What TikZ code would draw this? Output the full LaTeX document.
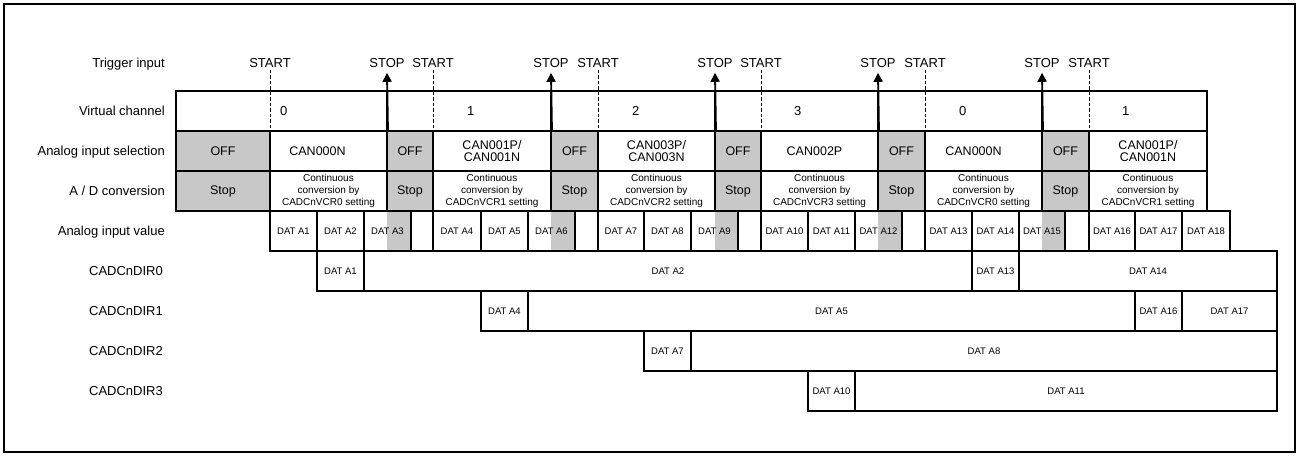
\documentclass[tikz,border=0pt]{standalone}
\usepackage{fontspec}
\setmainfont{Liberation Sans}
\usetikzlibrary{arrows.meta}
\definecolor{offgray}{RGB}{200,200,200}
\newcommand{\cellnode}[6]{%
  \node[#1, minimum width={(#4)-(#3)}] (#2) at ({((#3)+(#4))/2},#5) {#6};}
\begin{document}
\begin{tikzpicture}[x=1pt,y=-1pt,
  lbl/.style={anchor=base east, inner sep=0, font=\fontsize{13}{13}\selectfont},
  trig/.style={anchor=center, inner sep=0, font=\fontsize{13}{13}\selectfont},
  chn/.style={anchor=west, inner sep=0, font=\fontsize{13}{13}\selectfont},
  cellbox/.style={draw, line width=1.9pt, minimum height=40pt, inner sep=0, align=center, font=\fontsize{12.5}{12.5}\selectfont},
  offbox/.style={cellbox, fill=offgray},
  convbox/.style={cellbox, font=\fontsize{10}{12}\selectfont},
  datbox/.style={cellbox, font=\fontsize{9.5}{10}\selectfont},
  dashline/.style={line width=1pt, dash pattern=on 3.5pt off 2pt},
  arrline/.style={line width=1.9pt, -{Triangle[width=9pt,length=9pt]}}
]
\useasboundingbox (0,0) rectangle (1300,458);
\node[draw, line width=2pt, minimum width=1291pt, minimum height=448pt, inner sep=0] (frame) at (649.5,228) {};

% left labels
\node[lbl] (lt) at (165,67.7) {Trigger input};
\node[lbl] (lv) at (165,115.7) {Virtual channel};
\node[lbl] (ls) at (165,155.7) {Analog input selection};
\node[lbl] (ld) at (165,195.7) {A / D conversion};
\node[lbl] (la) at (165,235.7) {Analog input value};
\node[lbl] (l0) at (163,275.7) {CADCnDIR0};
\node[lbl] (l1) at (163,315.7) {CADCnDIR1};
\node[lbl] (l2) at (163,355.7) {CADCnDIR2};
\node[lbl] (l3) at (163,395.7) {CADCnDIR3};

% gray parts of analog input values
\fill[offgray] (387,211) rectangle (411,251);
\fill[offgray] (551,211) rectangle (575,251);
\fill[offgray] (715,211) rectangle (738,251);
\fill[offgray] (878,211) rectangle (902,251);
\fill[offgray] (1042,211) rectangle (1065,251);

% virtual channel row
\cellnode{cellbox}{vc0}{176}{387}{111}{}
\cellnode{cellbox}{vc1}{387}{551}{111}{}
\cellnode{cellbox}{vc2}{551}{715}{111}{}
\cellnode{cellbox}{vc3}{715}{878}{111}{}
\cellnode{cellbox}{vc4}{878}{1042}{111}{}
\cellnode{cellbox}{vc5}{1042}{1207}{111}{}
\node[chn] (c0) at (280,111) {0};
\node[chn] (c1) at (467,111) {1};
\node[chn] (c2) at (632,111) {2};
\node[chn] (c3) at (794,111) {3};
\node[chn] (c4) at (959,111) {0};
\node[chn] (c5) at (1122,111) {1};

% analog input selection row
\cellnode{offbox}{as0}{176}{270}{151}{OFF}
\cellnode{cellbox}{as1}{270}{387}{151}{CAN000N\hspace*{22pt}}
\cellnode{offbox}{as2}{387}{433}{151}{OFF}
\cellnode{cellbox}{as3}{433}{551}{151}{CAN001P/\\CAN001N}
\cellnode{offbox}{as4}{551}{598}{151}{OFF}
\cellnode{cellbox}{as5}{598}{715}{151}{CAN003P/\\CAN003N}
\cellnode{offbox}{as6}{715}{761}{151}{OFF}
\cellnode{cellbox}{as7}{761}{878}{151}{CAN002P\hspace*{10pt}}
\cellnode{offbox}{as8}{878}{925}{151}{OFF}
\cellnode{cellbox}{as9}{925}{1042}{151}{CAN000N\hspace*{20pt}}
\cellnode{offbox}{as10}{1042}{1089}{151}{OFF}
\cellnode{cellbox}{as11}{1089}{1207}{151}{CAN001P/\\CAN001N}

% A/D conversion row
\cellnode{offbox}{ad0}{176}{270}{191}{Stop}
\cellnode{convbox}{ad1}{270}{387}{191}{Continuous\\conversion by\\CADCnVCR0 setting}
\cellnode{offbox}{ad2}{387}{433}{191}{Stop}
\cellnode{convbox}{ad3}{433}{551}{191}{Continuous\\conversion by\\CADCnVCR1 setting}
\cellnode{offbox}{ad4}{551}{598}{191}{Stop}
\cellnode{convbox}{ad5}{598}{715}{191}{Continuous\\conversion by\\CADCnVCR2 setting}
\cellnode{offbox}{ad6}{715}{761}{191}{Stop}
\cellnode{convbox}{ad7}{761}{878}{191}{Continuous\\conversion by\\CADCnVCR3 setting}
\cellnode{offbox}{ad8}{878}{925}{191}{Stop}
\cellnode{convbox}{ad9}{925}{1042}{191}{Continuous\\conversion by\\CADCnVCR0 setting}
\cellnode{offbox}{ad10}{1042}{1089}{191}{Stop}
\cellnode{convbox}{ad11}{1089}{1207}{191}{Continuous\\conversion by\\CADCnVCR1 setting}

% analog input value row
\cellnode{datbox}{av1}{270}{317}{231}{DAT A1}
\cellnode{datbox}{av2}{317}{364}{231}{DAT A2}
\cellnode{datbox}{av3}{364}{411}{231}{DAT A3}
\cellnode{datbox}{ave0}{411}{433}{231}{}
\cellnode{datbox}{av4}{433}{481}{231}{DAT A4}
\cellnode{datbox}{av5}{481}{528}{231}{DAT A5}
\cellnode{datbox}{av6}{528}{575}{231}{DAT A6}
\cellnode{datbox}{ave1}{575}{598}{231}{}
\cellnode{datbox}{av7}{598}{644}{231}{DAT A7}
\cellnode{datbox}{av8}{644}{691}{231}{DAT A8}
\cellnode{datbox}{av9}{691}{738}{231}{DAT A9}
\cellnode{datbox}{ave2}{738}{761}{231}{}
\cellnode{datbox}{av10}{761}{808}{231}{DAT A10}
\cellnode{datbox}{av11}{808}{855}{231}{DAT A11}
\cellnode{datbox}{av12}{855}{902}{231}{DAT A12}
\cellnode{datbox}{ave3}{902}{925}{231}{}
\cellnode{datbox}{av13}{925}{972}{231}{DAT A13}
\cellnode{datbox}{av14}{972}{1019}{231}{DAT A14}
\cellnode{datbox}{av15}{1019}{1065}{231}{DAT A15}
\cellnode{datbox}{ave4}{1065}{1089}{231}{}
\cellnode{datbox}{av16}{1089}{1135}{231}{DAT A16}
\cellnode{datbox}{av17}{1135}{1182}{231}{DAT A17}
\cellnode{datbox}{av18}{1182}{1230}{231}{DAT A18}

% CADCnDIR rows
\cellnode{datbox}{d0a}{317}{364}{271}{DAT A1}
\cellnode{datbox}{d0b}{364}{972}{271}{DAT A2}
\cellnode{datbox}{d0c}{972}{1019}{271}{DAT A13}
\cellnode{datbox}{d0d}{1019}{1277}{271}{DAT A14}
\cellnode{datbox}{d1a}{481}{528}{311}{DAT A4}
\cellnode{datbox}{d1b}{528}{1135}{311}{DAT A5}
\cellnode{datbox}{d1c}{1135}{1182}{311}{DAT A16}
\cellnode{datbox}{d1d}{1182}{1277}{311}{DAT A17}
\cellnode{datbox}{d2a}{644}{691}{351}{DAT A7}
\cellnode{datbox}{d2b}{691}{1277}{351}{DAT A8}
\cellnode{datbox}{d3a}{808}{855}{391}{DAT A10}
\cellnode{datbox}{d3b}{855}{1277}{391}{DAT A11}

% trigger texts
\node[trig] (st0) at (270,63) {START};
\node[trig] (sp1) at (387,63) {STOP};
\node[trig] (st1) at (433,63) {START};
\node[trig] (sp2) at (551,63) {STOP};
\node[trig] (st2) at (598,63) {START};
\node[trig] (sp3) at (715,63) {STOP};
\node[trig] (st3) at (761,63) {START};
\node[trig] (sp4) at (878,63) {STOP};
\node[trig] (st4) at (925,63) {START};
\node[trig] (sp5) at (1042,63) {STOP};
\node[trig] (st5) at (1089,63) {START};

% START dashed lines
\foreach \s/\c in {st0/as1, st1/as3, st2/as5, st3/as7, st4/as9, st5/as11}{
  \draw[dashline] ([yshift=-2pt]\s.south) -- (\s.south |- \c.north);
}
% STOP arrows
\foreach \p/\c in {sp1/vc0, sp2/vc1, sp3/vc2, sp4/vc3, sp5/vc4}{
  \coordinate (\p tip) at ([yshift=-5pt]\p.south);
  \draw[arrline] (\c.south east) -- (\p tip);
}
\end{tikzpicture}
\end{document}
